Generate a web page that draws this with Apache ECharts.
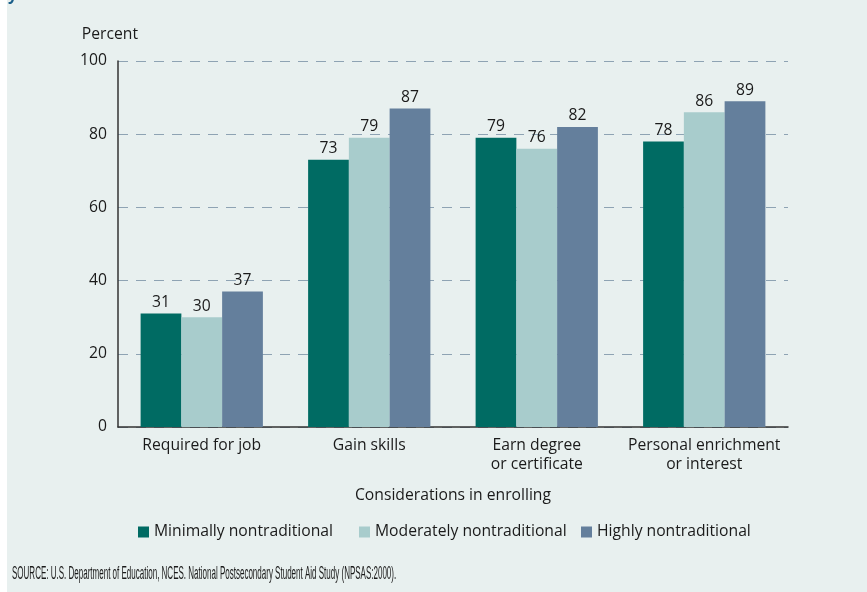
<!DOCTYPE html>
<html><head><meta charset="utf-8">
<script src="https://cdn.jsdelivr.net/npm/echarts@6/dist/echarts.min.js"></script>
<style>html,body{margin:0;padding:0;background:#fff;}#c{width:867px;height:592px;}</style>
</head><body><div id="c"></div>
<script>
var categories = ['Required for job', 'Gain skills', 'Earn degree\nor certificate', 'Personal enrichment\nor interest'];
var minimally = [31, 73, 79, 78];
var moderately = [30, 79, 76, 86];
var highly = [37, 87, 82, 89];
var seriesNames = ['Minimally nontraditional', 'Moderately nontraditional', 'Highly nontraditional'];
var yTicks = [0, 20, 40, 60, 80, 100];
var colors = ['#006b63', '#a8cccc', '#647f9c'];
var font = '"Open Sans", Lato, sans-serif';
var fs = 15.7;
var legendLefts = [138, 359, 581];
var chart = echarts.init(document.getElementById('c'));
function mk(name, data, color) {
  return {
    name: name, type: 'bar', data: data, barGap: '0%', barCategoryGap: '27%',
    itemStyle: { color: color },
    label: { show: true, position: 'top', distance: 3, color: '#1a1a1a', fontSize: fs, fontFamily: font }
  };
}
chart.setOption({
  backgroundColor: '#e8f0ef',
  graphic: [
    { type: 'rect', shape: { x: 0, y: 0, width: 7, height: 592 }, style: { fill: '#ffffff' } },
    { type: 'text', x: 8, y: -13, style: { text: 'y', fill: '#1b5f8a', fontSize: 16, fontWeight: 'bold', fontFamily: font } },
    { type: 'text', x: 12, y: 565, scaleX: 0.445, style: { text: 'SOURCE: U.S. Department of Education, NCES. National Postsecondary Student Aid Study (NPSAS:2000).', fill: '#1a1a1a', fontSize: 18, fontFamily: '"Liberation Sans", sans-serif' } }
  ],
  animation: false,
  grid: { left: 118, right: 79, top: 61, bottom: 165 },
  legend: seriesNames.map(function (n, i) {
    return {
      top: 524, left: legendLefts[i], padding: 0, itemWidth: 11, itemHeight: 11, itemGap: 4, icon: 'rect',
      textStyle: { fontSize: fs, fontFamily: font, color: '#1a1a1a' },
      data: [n]
    };
  }),
  xAxis: {
    type: 'category', data: categories,
    name: 'Considerations in enrolling', nameLocation: 'middle', nameGap: 61,
    nameTextStyle: { fontSize: fs, fontFamily: font, color: '#1a1a1a' },
    axisLine: { lineStyle: { color: '#333', width: 1.5 } },
    axisTick: { show: false },
    axisLabel: { interval: 0, fontSize: fs, fontFamily: font, color: '#1a1a1a', margin: 9, lineHeight: 19 }
  },
  yAxis: {
    type: 'value', min: 0, max: 100, interval: 20,
    name: 'Percent', nameLocation: 'end', nameGap: 18,
    nameTextStyle: { fontSize: fs, fontFamily: font, color: '#1a1a1a', align: 'right', padding: [0, -20, 0, 0] },
    axisLine: { show: true, lineStyle: { color: '#333', width: 1.5 } },
    axisTick: { show: false },
    axisLabel: { fontSize: fs, fontFamily: font, color: '#1a1a1a', margin: 11,
      formatter: function (v) { return yTicks.indexOf(v) >= 0 ? String(v) : ''; } },
    splitLine: { show: true, lineStyle: { color: '#8ea3b3', type: [10, 8], width: 1.2 } }
  },
  series: [mk(seriesNames[0], minimally, colors[0]), mk(seriesNames[1], moderately, colors[1]), mk(seriesNames[2], highly, colors[2])]
});
</script></body></html>
